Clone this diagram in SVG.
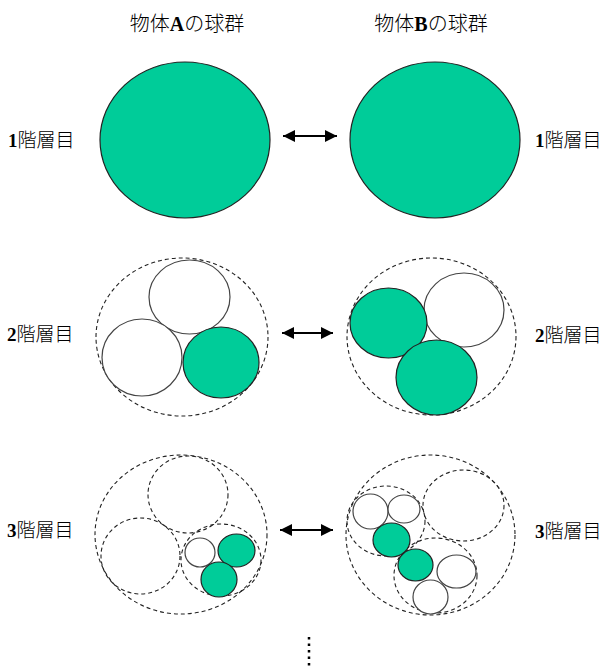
<svg xmlns="http://www.w3.org/2000/svg" width="606" height="669" viewBox="0 0 606 669">
<style>
.lbl{font-family:"Liberation Serif","Noto Sans CJK JP",serif;font-size:19px;font-weight:300;fill:#000}
.ttl{font-family:"Liberation Serif","Noto Sans CJK JP",serif;font-size:20px;font-weight:300;fill:#000}
.b{font-weight:bold}
.g{fill:#00CC99;stroke:#222;stroke-width:1.2}
.w{fill:#fff;stroke:#444;stroke-width:1.2}
.d{fill:none;stroke:#222;stroke-width:1.1;stroke-dasharray:4 3}
.arr{stroke:#000;stroke-width:2.2;fill:none;marker-start:url(#ah);marker-end:url(#ah)}
.dots{stroke:#000;stroke-width:2.5;stroke-dasharray:2.5 4}
</style>
<defs>
<marker id="ah" markerUnits="userSpaceOnUse" markerWidth="14" markerHeight="12" refX="12" refY="6" orient="auto-start-reverse">
<path d="M0,0 L12,6 L0,12 Z" fill="#000"/>
</marker>
</defs>
<rect width="606" height="669" fill="#fff"/>

<g id="titles">
<text class="ttl" x="187" y="31" text-anchor="middle">物体<tspan class="b">A</tspan>の球群</text>
<text class="ttl" x="431" y="31" text-anchor="middle">物体<tspan class="b">B</tspan>の球群</text>
</g>

<g id="labels">
<text class="lbl" x="8" y="147"><tspan class="b">1</tspan>階層目</text>
<text class="lbl" x="535" y="147"><tspan class="b">1</tspan>階層目</text>
<text class="lbl" x="7" y="341"><tspan class="b">2</tspan>階層目</text>
<text class="lbl" x="535" y="342"><tspan class="b">2</tspan>階層目</text>
<text class="lbl" x="7" y="537"><tspan class="b">3</tspan>階層目</text>
<text class="lbl" x="535" y="538"><tspan class="b">3</tspan>階層目</text>
</g>

<g id="A1">
<ellipse class="g" cx="185" cy="140" rx="85" ry="78"/>
</g>
<g id="B1">
<ellipse class="g" cx="435" cy="140" rx="85" ry="78"/>
</g>

<g id="A2">
<ellipse class="d" cx="182" cy="337" rx="86" ry="79"/>
<ellipse class="w" cx="189.5" cy="297" rx="40.5" ry="37"/>
<ellipse class="w" cx="142" cy="357.5" rx="40" ry="38.5"/>
<ellipse class="g" cx="221" cy="362.5" rx="38" ry="35.5"/>
</g>
<g id="B2">
<ellipse class="d" cx="431.5" cy="336.5" rx="84.5" ry="78.5"/>
<ellipse class="w" cx="464" cy="310" rx="40" ry="37"/>
<ellipse class="g" cx="388.5" cy="323" rx="38.5" ry="35"/>
<ellipse class="g" cx="436.5" cy="377.5" rx="40.5" ry="37.5"/>
</g>

<g id="A3">
<ellipse class="d" cx="181" cy="534.5" rx="86" ry="79.5"/>
<ellipse class="d" cx="188" cy="494.5" rx="40" ry="38.5"/>
<ellipse class="d" cx="140.5" cy="556" rx="39.5" ry="38"/>
<ellipse class="d" cx="221" cy="560" rx="40" ry="36"/>
<ellipse class="w" cx="200" cy="552.5" rx="15" ry="14.5"/>
<ellipse class="g" cx="236.5" cy="550.5" rx="18.5" ry="16.5"/>
<ellipse class="g" cx="219" cy="579.5" rx="18" ry="17.5"/>
</g>
<g id="B3">
<ellipse class="d" cx="430.5" cy="535" rx="84.5" ry="80"/>
<ellipse class="d" cx="463.5" cy="505.5" rx="40.5" ry="35.5"/>
<ellipse class="d" cx="386" cy="521" rx="39" ry="35"/>
<ellipse class="d" cx="435.5" cy="575.5" rx="41.5" ry="37.5"/>
<ellipse class="w" cx="370.5" cy="511.5" rx="17.5" ry="17.5"/>
<ellipse class="w" cx="404" cy="509" rx="16" ry="14"/>
<ellipse class="g" cx="391.5" cy="540" rx="18.5" ry="17"/>
<ellipse class="g" cx="415.5" cy="565" rx="17.5" ry="16"/>
<ellipse class="w" cx="456.5" cy="571.5" rx="19.5" ry="16.5"/>
<ellipse class="w" cx="430.5" cy="597" rx="17.5" ry="17"/>
</g>

<g id="connectors">
<line class="arr" x1="283" y1="136" x2="337" y2="136"/>
<line class="arr" x1="282" y1="333" x2="333" y2="333"/>
<line class="arr" x1="280" y1="530" x2="333" y2="530"/>
<line class="dots" x1="309" y1="637" x2="309" y2="669"/>
</g>
</svg>
